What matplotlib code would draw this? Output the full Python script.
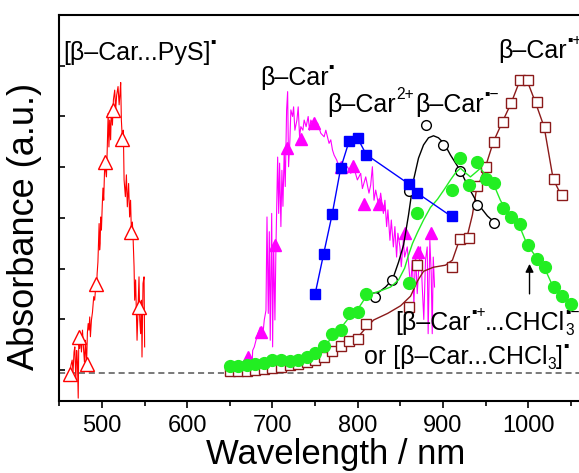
import numpy as np
import matplotlib
matplotlib.use('Agg')
import matplotlib.pyplot as plt
import matplotlib.transforms as mtransforms

plt.rcParams['font.family'] = ['Liberation Sans', 'DejaVu Sans']

# ---- [b-Car...PyS] radical (red, noisy trace + open triangles) ----
pys_nm = [462.3, 463.7, 465.1, 466.1, 467.3, 468.2, 469.4, 470.4, 471.3, 472.2, 472.9, 473.9,
          474.9, 476.0, 477.2, 478.4, 479.5, 480.7, 481.9, 483.0, 483.9, 484.8, 485.7, 486.5,
          487.7, 488.9, 490.4, 491.5, 492.7, 493.6, 494.4, 495.3, 496.7, 497.3, 497.9, 498.6,
          499.4, 500.4, 501.2, 502.1, 503.3, 504.3, 505.3, 506.2, 507.3, 508.2, 509.1, 510.2,
          511.1, 512.3, 513.5, 515.0, 516.1, 517.3, 518.9, 520.2, 521.3, 522.0, 522.8, 524.0,
          525.1, 526.0, 527.5, 528.7, 529.8, 531.3, 532.5, 533.6, 534.5, 535.7, 536.5, 537.7,
          538.4, 539.5, 541.2, 542.3, 543.5, 544.4, 545.4, 546.4, 547.0, 548.2, 549.4, 550.1]
pys_abs = [-0.06, 0.10, 0.20, -0.04, 0.36, 0.46, -0.20, 0.39, 0.16, -0.55, 0.66, 0.43,
           0.71, 0.36, 0.79, 0.43, 0.16, 0.59, 0.08, 0.75, 0.92, 0.79, 1.05, 0.66,
           0.99, 1.14, 1.45, 1.38, 1.64, 1.58, 1.91, 2.13, 2.89, 2.37, 2.50, 3.02,
           2.76, 3.25, 3.59, 3.35, 4.08, 3.94, 3.81, 4.34, 5.06, 4.40, 4.93, 4.54,
           5.19, 4.83, 5.33, 5.52, 5.13, 5.42, 5.59, 5.23, 5.48, 5.67, 4.93, 4.54,
           4.73, 3.75, 3.42, 3.85, 3.22, 3.68, 3.02, 3.35, 2.76, 2.92, 2.63, 2.04,
           1.38, 1.78, 0.59, 1.18, 1.84, 0.99, 0.72, 1.38, 0.26, 1.71, 1.84, 0.46]
pys_mark_nm = [463, 473, 483, 493.5, 503.5, 513.5, 524, 534, 544]
pys_mark_abs = [-0.07, 0.66, 0.12, 1.70, 4.11, 5.13, 4.55, 2.73, 1.25]

# ---- b-Car radical (magenta, noisy trace + filled triangles) ----
car_nm = [667.0, 671.0, 674.0, 675.7, 676.8, 678.7, 680.7, 682.7, 685.7, 688.5, 690.4, 692.4,
          693.6, 695.1, 696.3, 697.4, 699.1, 700.2, 701.4, 702.9, 704.1, 706.1, 707.3, 708.4,
          709.9, 711.1, 712.3, 713.8, 715.0, 716.6, 717.8, 718.9, 720.5, 721.6, 723.6, 724.8,
          726.3, 728.7, 730.2, 731.8, 733.3, 735.7, 737.2, 739.5, 741.9, 743.5, 745.0, 748.9,
          752.9, 756.7, 760.6, 762.6, 766.4, 768.4, 770.4, 772.3, 775.4, 778.1, 782.1, 784.0,
          788.0, 791.8, 795.7, 799.6, 803.5, 805.5, 809.4, 813.2, 815.2, 817.2, 819.1, 821.1,
          824.9, 826.9, 830.1, 831.9, 833.9, 835.4, 837.8, 839.4, 841.8, 843.6, 845.6, 847.1,
          849.5, 851.1, 853.5, 855.0, 858.1, 860.0, 862.0, 864.0, 865.9, 867.8, 869.8, 871.7,
          873.7, 875.7, 877.5, 879.5, 881.5, 882.6, 884.6, 886.2, 887.4, 888.6, 890.1]
car_abs = [0.07, 0.23, 0.07, -0.06, 0.39, 0.46, 0.59, 0.72, 0.85, 0.66, 0.99, 1.18,
           3.02, 1.12, 2.73, 0.59, 3.09, 0.46, 2.50, 0.99, 2.43, 4.20, 3.09, 4.08,
           2.83, 3.94, 3.23, 4.34, 3.62, 5.13, 5.49, 4.01, 4.54, 5.13, 5.00, 5.19,
           4.73, 4.93, 5.19, 4.60, 4.80, 4.73, 4.93, 4.80, 5.00, 4.73, 4.93, 4.80,
           4.87, 4.67, 4.60, 4.73, 4.47, 4.54, 4.34, 4.24, 4.14, 4.01, 4.11, 3.94,
           4.01, 3.88, 3.98, 3.75, 3.88, 3.58, 3.81, 3.49, 3.65, 4.01, 3.35, 3.55,
           3.22, 3.49, 3.09, 3.35, 2.83, 3.16, 2.56, 2.96, 2.43, 2.83, 2.23, 2.70,
           2.43, 2.04, 2.56, 2.23, 2.43, 2.04, 1.64, 2.17, 1.30, 2.30, 1.51, 2.04,
           2.43, 1.64, 1.00, 2.17, 2.43, 0.72, 2.56, 1.91, 0.72, 2.23, 1.64]
car_mark_nm = [671.3, 687.1, 703.5, 717.5, 733.3, 748.9, 780.1, 794.2, 807.4, 824.6, 855.6, 871.1, 885.7]
car_mark_abs = [0.27, 0.76, 2.47, 4.37, 4.55, 4.88, 4.00, 4.02, 3.27, 3.27, 2.70, 2.33, 2.71]

# ---- b-Car 2+ (blue squares) ----
dic_nm = [750, 760, 770, 780, 790, 800, 810, 860, 870, 910]
dic_abs = [1.50, 2.29, 3.07, 3.98, 4.52, 4.57, 4.25, 3.67, 3.49, 3.03]

# ---- b-Car radical anion (black open circles + smooth curve) ----
ani_nm = [820, 840, 860, 880, 900, 920, 940, 960]
ani_abs = [1.45, 1.78, 3.53, 4.84, 4.44, 3.93, 3.25, 2.91]
ani_line_nm = [818.7, 832.7, 840.9, 847.9, 853.8, 859.6, 865.5, 871.3, 877.2, 883.0, 888.9,
               894.7, 901.7, 908.8, 920.5, 929.8, 940.4, 952.1, 961.4]
ani_line_abs = [1.46, 1.64, 1.79, 2.13, 2.47, 3.06, 3.75, 4.18, 4.44, 4.58, 4.62,
                4.58, 4.46, 4.24, 3.93, 3.61, 3.29, 3.04, 2.90]

# ---- [b-Car+ ...CHCl3-] complex (green filled circles + smooth curve) ----
cpx_nm = [650, 660, 670, 680, 690, 700, 710, 720, 730, 740, 750, 760, 770, 780, 790, 800, 810,
          860, 870, 910, 920, 930, 940, 950, 960, 970, 980, 990, 1000, 1010, 1020, 1030, 1040, 1050]
cpx_abs = [0.08, 0.09, 0.10, 0.12, 0.14, 0.20, 0.21, 0.19, 0.21, 0.26, 0.34, 0.47, 0.72, 0.79,
           1.12, 1.15, 1.50, 1.72, 3.10, 3.55, 4.19, 3.65, 4.11, 3.76, 3.68, 3.20, 3.02, 2.89,
           2.46, 2.20, 2.04, 1.64, 1.47, 1.30]
cpx_line_nm = [649.1, 669.0, 688.9, 709.9, 729.8, 740.4, 749.7, 760.2, 770.8, 780.1, 789.5,
               800.0, 809.4, 818.7, 829.2, 838.6, 847.9, 855.0, 859.6, 864.3, 870.2, 877.2,
               885.4, 893.6, 901.8, 908.8, 914.7, 920.5, 926.4, 932.2, 939.2, 943.9, 949.7,
               955.6, 960.3, 967.3, 973.1, 979.0, 988.3, 998.8, 1009.4, 1018.7, 1029.2,
               1038.6, 1049.1]
cpx_line_abs = [0.08, 0.10, 0.14, 0.21, 0.22, 0.26, 0.34, 0.45, 0.67, 0.83, 1.03,
                1.20, 1.44, 1.52, 1.58, 1.64, 1.78, 2.01, 2.27, 2.50, 2.72, 2.96,
                3.21, 3.37, 3.57, 3.75, 3.89, 3.98, 3.89, 3.81, 3.91, 3.98, 3.85,
                3.73, 3.63, 3.35, 3.18, 3.04, 2.90, 2.47, 2.23, 2.03, 1.64,
                1.48, 1.32]

# ---- b-Car radical cation (wine open squares + smooth curve) ----
cat_nm = [650, 660, 670, 680, 690, 700, 710, 720, 730, 740, 750, 760, 770, 780, 790, 800, 810,
          860, 870, 910, 920, 930, 940, 950, 960, 970, 980, 990, 1000, 1010, 1020, 1030, 1040]
cat_abs = [-0.02, -0.02, -0.01, 0.0, 0.03, 0.05, 0.07, 0.10, 0.13, 0.17, 0.21, 0.26, 0.38,
           0.47, 0.58, 0.61, 0.92, 1.24, 2.07, 2.03, 2.59, 2.61, 3.63, 4.00, 4.50, 4.89,
           5.26, 5.71, 5.71, 5.29, 4.79, 3.76, 3.46]
cat_line_nm = [649.1, 686.6, 721.6, 750.9, 760.2, 770.8, 780.1, 789.5, 800.0, 809.4, 818.7,
               835.1, 850.3, 862.0, 870.2, 877.2, 888.9, 902.9, 911.1, 918.1, 928.7, 934.5,
               939.2, 949.7, 959.1, 969.6, 980.1, 989.5, 994.2, 998.8, 1008.2, 1018.7,
               1029.2, 1038.6]
cat_line_abs = [-0.02, 0.01, 0.08, 0.20, 0.28, 0.37, 0.47, 0.57, 0.65, 0.83, 0.99,
                1.12, 1.27, 1.46, 1.76, 1.95, 2.03, 2.07, 2.17, 2.51, 2.66, 3.06,
                3.55, 4.00, 4.50, 4.89, 5.27, 5.68, 5.76, 5.70, 5.29, 4.79,
                3.77, 3.45]

baseline = -0.055
x_ticks = [500, 600, 700, 800, 900, 1000, 1100]
x_tick_labels = ['500', '600', '700', '800', '900', '1000', '']


def rich_label(ax, x, y, parts, size=18):
    """Writes a label piece by piece so super/subscripts can sit next to normal text."""
    fig = ax.figure
    renderer = fig.canvas.get_renderer()
    dx = 0.0
    for s, kind, advance in parts:
        fs = size if kind == 'n' else size * 0.62
        dy = {'n': 0, 'sup': size * 0.52, 'sub': -size * 0.2}[kind]
        tr = mtransforms.offset_copy(ax.transData, fig=fig, x=dx, y=dy, units='points')
        t = ax.text(x, y, s, fontsize=fs, transform=tr, ha='left', va='baseline',
                    clip_on=False, color='black')
        if advance:
            dx += t.get_window_extent(renderer).width * 72 / fig.dpi


fig = plt.figure(figsize=(5.79, 4.73), dpi=100)
ax = fig.add_axes([0.1024, 0.1529, 0.9572, 0.8154])

ax.axhline(baseline, color='#555555', ls=(0, (4, 2.5)), lw=1.1, zorder=1)

# magenta
ax.plot(car_nm, car_abs, '-', color='#ff00ff', lw=0.8, zorder=2)
ax.plot(car_mark_nm, car_mark_abs, '^', color='#ff00ff', ms=9, mec='#ff00ff', zorder=2)
# wine
ax.plot(cat_line_nm, cat_line_abs, '-', color='#8b1a1a', lw=1.0, zorder=3)
ax.plot(cat_nm, cat_abs, 's', mfc='white', mec='#8b1a1a', mew=1.0, ms=7, zorder=3)
# black
ax.plot(ani_line_nm, ani_line_abs, '-', color='black', lw=1.0, zorder=4)
ax.plot(ani_nm, ani_abs, 'o', mfc='white', mec='black', mew=1.0, ms=7, zorder=4)
# green
ax.plot(cpx_line_nm, cpx_line_abs, '-', color='#22ee22', lw=1.0, zorder=5)
ax.plot(cpx_nm, cpx_abs, 'o', color='#22ee22', ms=8.5, zorder=5)
# blue
ax.plot(dic_nm, dic_abs, '-s', color='#0000ff', lw=1.0, ms=6.5, zorder=6)
# red
ax.plot(pys_nm, pys_abs, '-', color='#ff0000', lw=0.8, zorder=6)
ax.plot(pys_mark_nm, pys_mark_abs, '^', mfc='white', mec='#ff0000', mew=1.0, ms=10, zorder=6)

ax.set_xlim(452, 1100)
ax.set_ylim(-0.6, 7.0)
ax.set_xticks(x_ticks)
ax.set_xticklabels(x_tick_labels)
ax.set_xticks(np.arange(450, 1101, 50), minor=True)
ax.set_yticks(np.arange(0, 8, 1))
ax.set_yticklabels([])
ax.tick_params(axis='x', which='major', direction='out', length=5, width=1.2,
               labelsize=17, pad=5)
ax.tick_params(axis='x', which='minor', direction='out', length=3.5, width=1.2)
ax.tick_params(axis='y', direction='in', length=4, width=1.2)
for sp in ax.spines.values():
    sp.set_linewidth(1.5)

fig.text(0.579, 0.02, 'Wavelength / nm', fontsize=25, ha='center', va='baseline')
fig.text(0.043, 0.522, 'Absorbance (a.u.)', fontsize=26, ha='center', va='center', rotation=90)

# labels
rich_label(ax, 454.6, 6.12, [('[β–Car...PyS]', 'n', True), ('▪', 'sup', True)])
rich_label(ax, 685.4, 5.62, [('β–Car', 'n', True), ('▪', 'sup', True)])
rich_label(ax, 764.6, 5.09, [('β–Car', 'n', True), ('2+', 'sup', True)])
rich_label(ax, 867.8, 5.09, [('β–Car', 'n', True), ('▪−', 'sup', True)])
rich_label(ax, 964.9, 6.15, [('β–Car', 'n', True), ('▪+', 'sup', True)])
rich_label(ax, 844.0, 0.80, [('[β–Car', 'n', True), ('▪+', 'sup', True), ('...CHCl', 'n', True),
                             ('3', 'sub', False), ('▪−', 'sup', True)])
rich_label(ax, 807.5, 0.12, [('or [β–Car...CHCl', 'n', True), ('3', 'sub', True),
                             (']', 'n', True), ('▪', 'sup', True)])

ax.annotate('', xy=(1001.5, 2.15), xytext=(1001.5, 1.45),
            arrowprops=dict(arrowstyle='-|>', color='black', lw=1.0, mutation_scale=12))

fig.savefig('out.png', dpi=100)
